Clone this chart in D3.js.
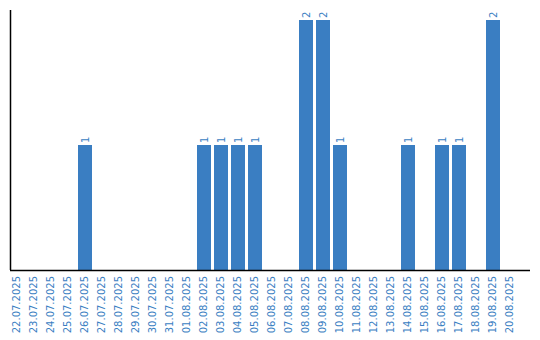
<!DOCTYPE html>
<html>
<head>
<meta charset="utf-8">
<script src="https://cdn.jsdelivr.net/npm/d3@7"></script>
<style>
body { margin: 0; background: #fff; }
text { font-family: "DejaVu Sans", Verdana, sans-serif; font-size: 10px; fill: #3a7ec2; }
</style>
</head>
<body>
<div id="container"></div>
<script>

var dates = ["22.07.2025","23.07.2025","24.07.2025","25.07.2025","26.07.2025","27.07.2025",
	"28.07.2025","29.07.2025","30.07.2025","31.07.2025","01.08.2025","02.08.2025","03.08.2025",
	"04.08.2025","05.08.2025","06.08.2025","07.08.2025","08.08.2025","09.08.2025","10.08.2025",
	"11.08.2025","12.08.2025","13.08.2025","14.08.2025","15.08.2025","16.08.2025","17.08.2025",
	"18.08.2025","19.08.2025","20.08.2025"];
var counts = [0,0,0,0,1,0,0,0,0,0,0,1,1,1,1,0,0,2,2,1,0,0,0,1,0,1,1,0,2,0];
var yMax = 2.08;

function render() {
	var width = 540, height = 340;
	var margin = {left:10, top:10, right:10, bottom:70};
	var base = height - margin.bottom;

	var svg = d3.select("#container")
		.append('svg')
		.attr("width", width)
		.attr('height', height);

	//band scale: step 17, bar 14
	var x = d3.scaleBand()
		.domain(dates)
		.range([margin.left - 1.5, margin.left - 1.5 + 17 * dates.length])
		.paddingInner(3 / 17)
		.paddingOuter(3 / 34);

	var y = d3.scaleLinear()
		.domain([0, yMax])
		.range([base, margin.top]);

	var data = dates.map((d, i) => ({date: d, value: counts[i]}));

	svg.selectAll('.bar')
		.data(data.filter(d => d.value > 0))
		.enter()
		.append('rect')
		.attr('class', 'bar')
		.attr('x', d => x(d.date))
		.attr('y', d => y(d.value))
		.attr('width', x.bandwidth())
		.attr('height', d => base - y(d.value))
		.attr('fill', '#3a7ec2');

	svg.selectAll('.val')
		.data(data.filter(d => d.value > 0))
		.enter()
		.append('text')
		.attr('class', 'val')
		.attr('transform', d => 'translate(' + (x(d.date) + x.bandwidth() / 2) + ',' + (y(d.value) - 2) + ') rotate(-90)')
		.attr('dy', '0.35em')
		.attr('text-anchor', 'start')
		.text(d => d.value);

	//axes, drawn as plain lines
	svg.append('line')
		.attr('x1', margin.left + 0.5).attr('x2', margin.left + 0.5)
		.attr('y1', margin.top).attr('y2', base)
		.attr('stroke', '#000').attr('stroke-width', 1.5);
	svg.append('line')
		.attr('x1', margin.left).attr('x2', width - margin.right)
		.attr('y1', base + 0.5).attr('y2', base + 0.5)
		.attr('stroke', '#000').attr('stroke-width', 1.5);

	svg.selectAll('.date')
		.data(dates)
		.enter()
		.append('text')
		.attr('class', 'date')
		.attr('transform', d => 'translate(' + (x(d) + x.bandwidth() / 2 - 0.5) + ',' + (base + 6) + ') rotate(-90)')
		.attr('dy', '0.35em')
		.attr('text-anchor', 'end')
		.text(d => d);
}

render();
</script>
</body>
</html>
